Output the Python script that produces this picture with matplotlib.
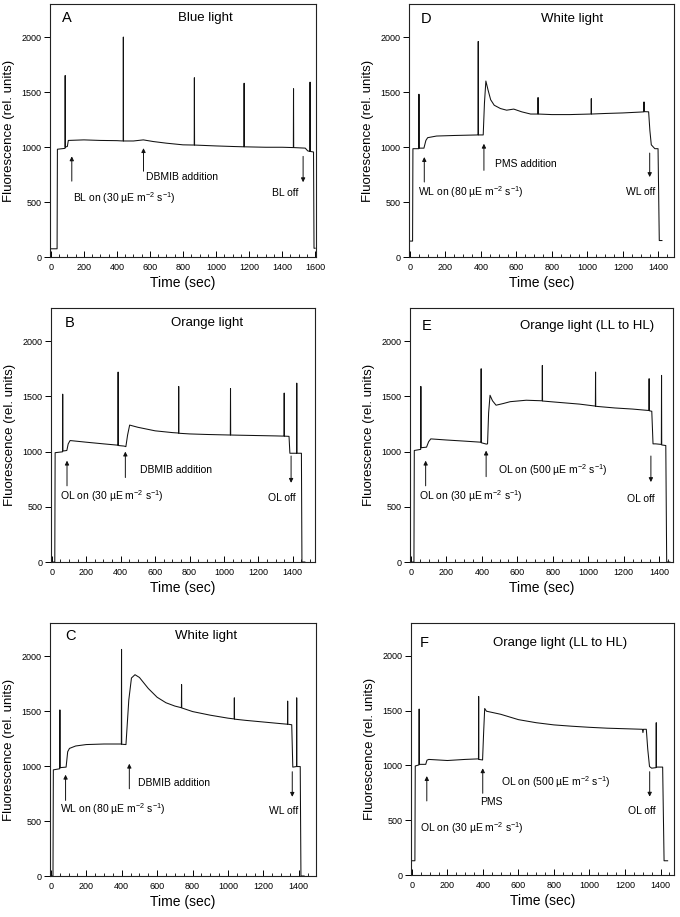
import matplotlib
matplotlib.use("Agg")
import matplotlib.pyplot as plt
from matplotlib.ticker import MultipleLocator

plt.rcParams["font.family"] = ["Liberation Sans", "DejaVu Sans"]
plt.rcParams["mathtext.fontset"] = "custom"
plt.rcParams["mathtext.rm"] = "Liberation Sans"
plt.rcParams["mathtext.it"] = "Liberation Sans:italic"

# ── traces (time in s, fluorescence in rel. units) ──
# A: blue light, DBMIB
tA = [0, 38, 40, 86, 87, 88, 100, 106, 200, 300, 400, 438, 439, 440,
      500, 560, 620, 700, 800, 868, 869, 870, 1000, 1100, 1169, 1170, 1171,
      1300, 1400, 1468, 1469, 1470, 1540, 1555, 1568, 1569, 1570, 1590, 1593, 1600]
fA = [75, 75, 980, 988, 1650, 1000, 1005, 1060, 1065, 1060, 1058, 1055, 2000, 1055,
      1055, 1065, 1050, 1035, 1020, 1018, 1630, 1018, 1010, 1005, 1002, 1580, 1002,
      998, 998, 995, 1530, 995, 990, 965, 960, 1590, 960, 955, 80, 80]

# B: orange light, DBMIB
tB = [0, 17, 19, 62, 63, 64, 87, 95, 106, 200, 300, 384, 385, 386, 419, 430, 440,
      452, 500, 600, 700, 736, 737, 738, 800, 900, 1037, 1038, 1039, 1100, 1200,
      1300, 1349, 1350, 1351, 1378, 1383, 1422, 1423, 1424, 1450, 1453, 1470]
fB = [0, 0, 990, 998, 1520, 1005, 1010, 1070, 1100, 1085, 1070, 1058, 1720, 1055,
      1050, 1045, 1150, 1240, 1220, 1188, 1172, 1168, 1590, 1166, 1160, 1155, 1150,
      1570, 1150, 1148, 1145, 1142, 1140, 1530, 1140, 1138, 985, 985, 1620, 985, 985, 0, 0]

# C: white light, DBMIB
tC = [0, 12, 14, 50, 51, 52, 86, 95, 105, 140, 200, 300, 398, 399, 400, 424, 440,
      455, 475, 500, 550, 600, 650, 700, 737, 738, 739, 800, 900, 1000, 1035, 1036,
      1037, 1100, 1200, 1300, 1336, 1337, 1338, 1360, 1366, 1387, 1388, 1389, 1408,
      1412, 1430]
fC = [0, 0, 965, 975, 1510, 985, 990, 1130, 1160, 1182, 1195, 1200, 1200, 2060, 1198,
      1195, 1600, 1800, 1830, 1805, 1705, 1625, 1575, 1545, 1530, 1740, 1528, 1495,
      1462, 1435, 1428, 1620, 1426, 1415, 1400, 1385, 1380, 1590, 1380, 1375, 990,
      995, 1620, 995, 995, 0, 0]

# D: white light, PMS
tD = [0, 15, 17, 50, 51, 52, 79, 90, 100, 150, 250, 384, 385, 386, 413, 420, 428,
      440, 455, 475, 510, 545, 585, 630, 680, 721, 722, 723, 800, 900, 1021, 1022,
      1023, 1100, 1200, 1300, 1318, 1319, 1320, 1345, 1352, 1360, 1380, 1398, 1405, 1420]
fD = [145, 145, 985, 985, 1480, 990, 990, 1060, 1085, 1100, 1105, 1110, 1960, 1110,
      1110, 1400, 1600, 1520, 1430, 1380, 1350, 1335, 1345, 1320, 1300, 1300, 1450,
      1300, 1295, 1295, 1300, 1440, 1300, 1305, 1310, 1318, 1320, 1410, 1322, 1320,
      1150, 1020, 985, 985, 150, 150]

# E: orange light, low to high light
tE = [0, 17, 19, 55, 56, 57, 88, 100, 112, 200, 300, 395, 396, 397, 425, 432, 438,
      446, 460, 480, 520, 560, 650, 740, 741, 742, 800, 950, 1040, 1041, 1042, 1150,
      1250, 1342, 1343, 1344, 1358, 1365, 1380, 1412, 1413, 1414, 1437, 1442, 1460]
fE = [0, 0, 1010, 1020, 1590, 1035, 1040, 1090, 1115, 1105, 1095, 1085, 1750, 1080,
      1068, 1070, 1350, 1510, 1460, 1420, 1435, 1452, 1465, 1460, 1780, 1458, 1450,
      1430, 1412, 1720, 1410, 1395, 1385, 1372, 1660, 1370, 1365, 1070, 1070, 1065,
      1690, 1060, 1055, 0, 0]

# F: orange light, low to high light, PMS
tF = [0, 17, 19, 40, 41, 42, 78, 85, 95, 200, 300, 375, 376, 377, 398, 404, 410,
      420, 500, 600, 700, 800, 900, 1000, 1100, 1200, 1298, 1301, 1304, 1320, 1328,
      1338, 1350, 1375, 1376, 1377, 1412, 1420, 1440]
fF = [130, 130, 995, 1005, 1515, 1010, 1010, 1048, 1055, 1045, 1055, 1060, 1630,
      1055, 1050, 1300, 1520, 1495, 1467, 1418, 1390, 1370, 1358, 1348, 1340, 1335,
      1330, 1300, 1330, 1330, 1150, 990, 975, 980, 1390, 985, 985, 130, 130]

LOW = "30 µE m$^{-2}$ s$^{-1}$"
WL = "80 µE m$^{-2}$ s$^{-1}$"
HIGH = "500 µE m$^{-2}$ s$^{-1}$"

fig = plt.figure(figsize=(6.8, 9.17), dpi=100)


def panel(rect, t, f, xmax, xright):
    ax = fig.add_axes(rect)
    ax.plot(t, f, color="#111111", lw=0.75)
    ax.set_xlim(-5, xright)
    ax.set_ylim(0, 2300)
    ax.set_xticks(range(0, xmax + 1, 200))
    ax.xaxis.set_minor_locator(MultipleLocator(50))
    ax.set_yticks([0, 500, 1000, 1500, 2000])
    ax.tick_params(axis="x", which="major", direction="in", length=4, width=0.7,
                   labelsize=6.5, pad=4)
    ax.tick_params(axis="x", which="minor", direction="in", length=2.5, width=0.6)
    ax.tick_params(axis="y", direction="out", length=4, width=0.7, labelsize=6.5, pad=2)
    for s in ax.spines.values():
        s.set_linewidth(0.8)
        s.set_color("#222222")
    ax.set_xlabel("Time (sec)", fontsize=10, labelpad=3)
    ax.set_ylabel("Fluorescence (rel. units)", fontsize=9.5, labelpad=5)
    return ax


def arrow(ax, x, tail, head):
    ax.annotate("", xy=(x, head), xytext=(x, tail),
                arrowprops=dict(arrowstyle="-|>", lw=0.7, color="#111111",
                                mutation_scale=6, shrinkA=0, shrinkB=0))


def label(ax, letter, lx, title, tx, ty):
    ax.text(lx, ty, letter, fontsize=10.5, ha="center", va="center")
    ax.text(tx, ty, title, fontsize=9.5, ha="center", va="center")


# A
ax = panel([0.0735, 0.7197, 0.3912, 0.2759], tA, fA, 1600, 1605)
label(ax, "A", 95, "Blue light", 934, 2175)
arrow(ax, 127, 690, 915)
ax.text(135, 536, "BL on (" + LOW + ")", fontsize=7.5, va="center")
arrow(ax, 561, 780, 990)
ax.text(577, 724, "DBMIB addition", fontsize=7.5, va="center")
arrow(ax, 1527, 915, 680)
ax.text(1417, 582, "BL off", fontsize=7.5, va="center", ha="center")

# D
ax = panel([0.6015, 0.7197, 0.3897, 0.2759], tD, fD, 1400, 1488)
label(ax, "D", 90, "White light", 916, 2160)
arrow(ax, 81, 682, 909)
ax.text(47, 591, "WL on (" + WL + ")", fontsize=7.5, va="center")
arrow(ax, 417, 788, 1030)
ax.text(482, 848, "PMS addition", fontsize=7.5, va="center")
arrow(ax, 1351, 945, 727)
ax.text(1300, 591, "WL off", fontsize=7.5, va="center", ha="center")

# B
ax = panel([0.075, 0.3871, 0.388, 0.277], tB, fB, 1400, 1528)
label(ax, "B", 102, "Orange light", 900, 2160)
arrow(ax, 88, 690, 918)
ax.text(48, 598, "OL on (" + LOW + ")", fontsize=7.5, va="center")
arrow(ax, 427, 765, 1000)
ax.text(510, 836, "DBMIB addition", fontsize=7.5, va="center")
arrow(ax, 1390, 960, 717)
ax.text(1335, 578, "OL off", fontsize=7.5, va="center", ha="center")

# E
ax = panel([0.603, 0.3871, 0.3868, 0.277], tE, fE, 1400, 1478)
label(ax, "E", 86, "Orange light (LL to HL)", 991, 2136)
arrow(ax, 83, 690, 918)
ax.text(47, 598, "OL on (" + LOW + ")", fontsize=7.5, va="center")
arrow(ax, 424, 773, 1009)
ax.text(490, 836, "OL on (" + HIGH + ")", fontsize=7.5, va="center")
arrow(ax, 1353, 960, 724)
ax.text(1296, 570, "OL off", fontsize=7.5, va="center", ha="center")

# C
ax = panel([0.0735, 0.0447, 0.3912, 0.2759], tC, fC, 1400, 1497)
label(ax, "C", 111, "White light", 876, 2182)
arrow(ax, 83, 687, 921)
ax.text(51, 605, "WL on (" + WL + ")", fontsize=7.5, va="center")
arrow(ax, 443, 793, 1021)
ax.text(490, 848, "DBMIB addition", fontsize=7.5, va="center")
arrow(ax, 1363, 948, 720)
ax.text(1316, 589, "WL off", fontsize=7.5, va="center", ha="center")

# F
ax = panel([0.6044, 0.0458, 0.3868, 0.2748], tF, fF, 1400, 1476)
label(ax, "F", 69, "Orange light (LL to HL)", 833, 2121)
arrow(ax, 84, 676, 903)
ax.text(47, 432, "OL on (" + LOW + ")", fontsize=7.5, va="center")
arrow(ax, 399, 746, 974)
ax.text(446, 670, "PMS", fontsize=7.5, va="center", ha="center")
ax.text(500, 852, "OL on (" + HIGH + ")", fontsize=7.5, va="center")
arrow(ax, 1339, 943, 715)
ax.text(1292, 587, "OL off", fontsize=7.5, va="center", ha="center")

fig.savefig("out.png", dpi=100)
